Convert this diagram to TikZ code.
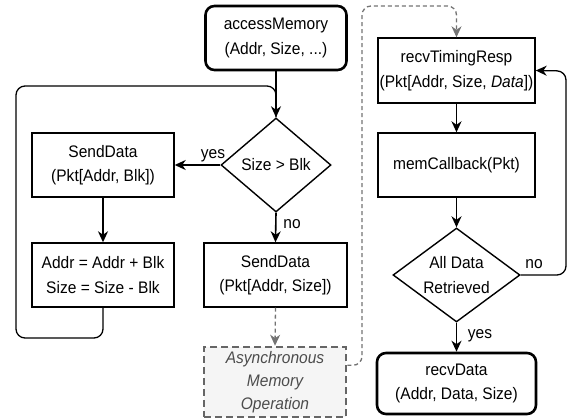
\documentclass[tikz,border=0pt]{standalone}
\usepackage{fontspec}
\setmainfont[FakeStretch=0.93]{Liberation Sans}
\usetikzlibrary{shapes.geometric,arrows.meta,calc}
\tikzset{
  box/.style={draw, line width=1.4pt, rectangle, align=center, inner sep=0pt},
  termbox/.style={draw, line width=2.6pt, rectangle, rounded corners=9pt, align=center, inner sep=0pt},
  decision/.style={draw, line width=1.4pt, diamond, inner sep=0pt},
  txt/.style={align=center, inner sep=0pt},
  asyncbox/.style={draw=black!60, fill=black!4, line width=2.6pt, dash pattern=on 7pt off 4pt, rectangle, align=center, inner sep=0pt, text=black!70},
  arr/.style={line width=1.6pt, -{Stealth[length=11pt,width=10pt,inset=3.5pt]}},
  loopline/.style={line width=1.3pt, rounded corners=9pt},
  looparr/.style={line width=1.3pt, rounded corners=9pt, -{Stealth[length=11pt,width=10pt,inset=3.5pt]}},
  dasharr/.style={draw=black!55, line width=1.3pt, dash pattern=on 4pt off 3pt, rounded corners=9pt, -{Stealth[length=11pt,width=10pt,inset=3.5pt]}},
  lbl/.style={inner sep=0pt, anchor=base},
}
\begin{document}
\begin{tikzpicture}[x=1pt,y=-1pt,font=\fontsize{16.7}{24.5}\selectfont]
\useasboundingbox (0,0) rectangle (570,418);

\node[termbox, minimum width=141pt, minimum height=64pt] (access) at (276,38) {accessMemory\\(Addr, Size, ...)};
\node[decision, minimum width=110pt, minimum height=94pt] (d1) at (276,165) {};
\node[txt] (d1t) at (d1) {Size > Blk};
\node[box, minimum width=142pt, minimum height=64pt] (send1) at (103,165) {SendData\\(Pkt[Addr, Blk])};
\node[box, minimum width=142pt, minimum height=64pt] (addr) at (103,275) {Addr = Addr + Blk\\Size = Size - Blk};
\node[box, minimum width=143pt, minimum height=64pt] (send2) at (275.5,275) {SendData\\(Pkt[Addr, Size])};
\node[asyncbox, minimum width=142pt, minimum height=70pt, font=\fontsize{16.7}{23}\selectfont\itshape] (async) at (275,382) {Asynchronous\\Memory\\Operation};

\node[box, minimum width=157pt, minimum height=65pt] (recv) at (456.5,70.5) {recvTimingResp\\(Pkt[Addr, Size, \textit{Data}])};
\node[box, minimum width=157pt, minimum height=64pt] (mem) at (456.5,165) {memCallback(Pkt)};
\node[decision, minimum width=127pt, minimum height=94pt] (d2) at (456.5,275) {};
\node[txt] (d2t) at (d2) {All Data\\Retrieved};
\node[termbox, minimum width=159pt, minimum height=61pt] (rdata) at (456.5,383.5) {recvData\\(Addr, Data, Size)};

% labels
\node[lbl] (yes1) at (213,158) {yes};
\node[lbl] (no1) at (292,228) {no};
\node[lbl] (no2) at (534,268) {no};
\node[lbl] (yes2) at (480,338) {yes};

% coordinates
\coordinate (lp1) at (16,338);
\coordinate (lp2) at (16,86);
\coordinate (ae) at ($(async.north east)!0.27!(async.south east)$);
\coordinate (dt) at (362,6);
\coordinate (rl) at (566,71);

% connectors
\draw[arr] (access.south) -- (d1.north);
\draw[loopline] (addr.south) |- (lp1) -- (lp2) -| (d1.north);
\draw[arr] (d1.west) -- (send1.east);
\draw[arr] (d1.south) -- (send2.north);
\draw[arr] (send1.south) -- (addr.north);
\draw[dasharr] (send2.south) -- (async.north);
\draw[dasharr] (ae) -| (dt) -| (recv.north);
\draw[arr] (recv.south) -- (mem.north);
\draw[arr] (mem.south) -- (d2.north);
\draw[looparr] (d2.east) -| (rl) -- (recv.east);
\draw[arr] (d2.south) -- (rdata.north);
\end{tikzpicture}
\end{document}
